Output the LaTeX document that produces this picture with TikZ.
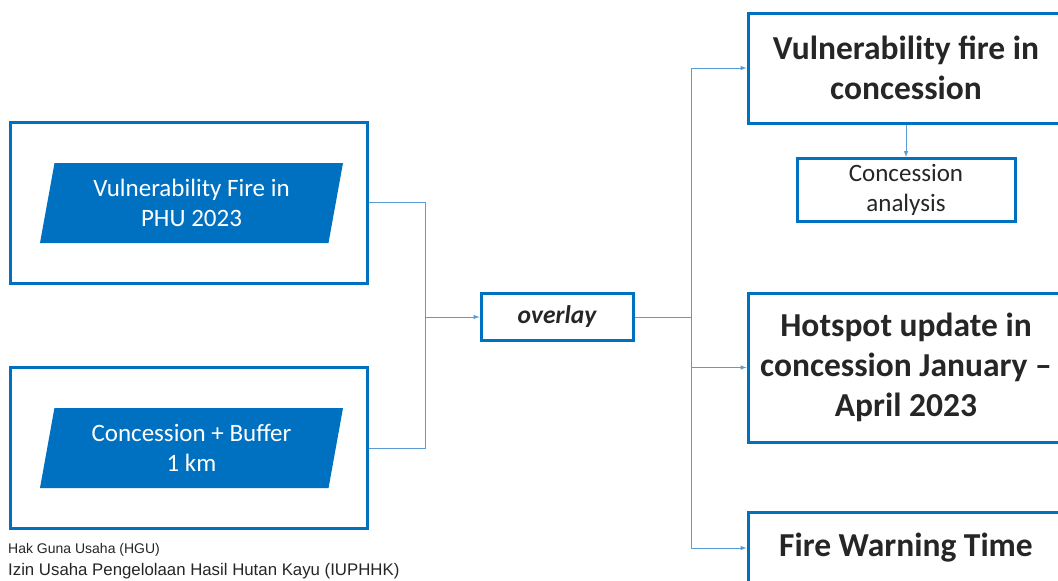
\documentclass[tikz,border=0pt]{standalone}
\usepackage{fontspec}
\setmainfont{Carlito}
\newfontfamily\arialfont{Liberation Sans}
\usetikzlibrary{arrows}
\usetikzlibrary{shapes.geometric}
\definecolor{boxblue}{HTML}{0070C0}
\definecolor{linkblue}{HTML}{5B9BD5}
\definecolor{txtgray}{HTML}{262626}

\begin{document}
\begin{tikzpicture}[x=1pt, y=-1pt,
        framebox/.style={draw=boxblue, line width=3pt, fill=white, minimum width=357pt, minimum height=161pt},
        datapara/.style={trapezium, trapezium left angle=75, trapezium right angle=105,
            trapezium stretches body, fill=boxblue, text=white, minimum width=303pt,
            minimum height=80pt, align=center, font=\fontsize{25}{30}\selectfont},
        resultbox/.style={draw=boxblue, line width=3pt, fill=white, text=txtgray,
            minimum width=316pt, align=center, font=\bfseries\fontsize{33.5}{40}\selectfont},
        smallbox/.style={draw=boxblue, line width=3pt, fill=white, text=txtgray,
            minimum width=218pt, minimum height=63pt, align=center, font=\fontsize{25}{30}\selectfont},
        link/.style={draw=linkblue, line width=1pt}]
        \clip (0, 0) rectangle (1058, 581);
        \fill[white] (0, 0) rectangle (1058, 581);

        % left inputs
        \node[framebox] (firebox) at (188.5, 202.5) {};
        \node[datapara] (firepara) at (191.5, 203) {Vulnerability Fire in\\PHU 2023};
        \node[framebox] (bufbox) at (188.5, 448) {};
        \node[datapara] (bufpara) at (191.5, 448) {Concession + Buffer\\1 km};

        % overlay
        \node[draw=boxblue, line width=3pt, fill=white, text=txtgray, minimum width=152pt,
            minimum height=47pt, font=\bfseries\itshape\fontsize{25.5}{28}\selectfont] (overlay) at (557, 317) {overlay};

        % results
        \node[resultbox, minimum height=110pt] (vulnbox) at (906, 68) {Vulnerability fire in\\concession};
        \node[smallbox] (analysis) at (906, 190) {Concession\\analysis};
        \node[resultbox, minimum height=149pt] (hotbox) at (906, 367.5) {Hotspot update in\\concession January --\\April 2023};
        \node[resultbox, minimum height=72pt] (warnbox) at (906, 548) {Fire Warning Time};

        % connectors
        \coordinate (joinL) at (425, 317);
        \coordinate (joinR) at (691, 317);
        \draw[link] (firebox.east) -| (joinL);
        \draw[link] (bufbox.east) -| (joinL);
        \draw[link, -latex] (joinL) -- (overlay.west);
        \draw[link] (overlay.east) -- (joinR);
        \foreach \target in {vulnbox, hotbox, warnbox}
        {
            \draw[link, -latex] (joinR) |- (\target.west);
        }
        \draw[link, -latex] (vulnbox.south) -- (analysis.north);

        % notes
        \node[anchor=west, inner sep=0pt, text=txtgray, font=\arialfont\fontsize{14}{16}\selectfont] (notehgu) at (8, 550) {Hak Guna Usaha (HGU)};
        \node[anchor=west, inner sep=0pt, text=txtgray, font=\arialfont\fontsize{16.8}{18}\selectfont] (noteiup) at (8, 571) {Izin Usaha Pengelolaan Hasil Hutan Kayu (IUPHHK)};
    \end{tikzpicture}
\end{document}
